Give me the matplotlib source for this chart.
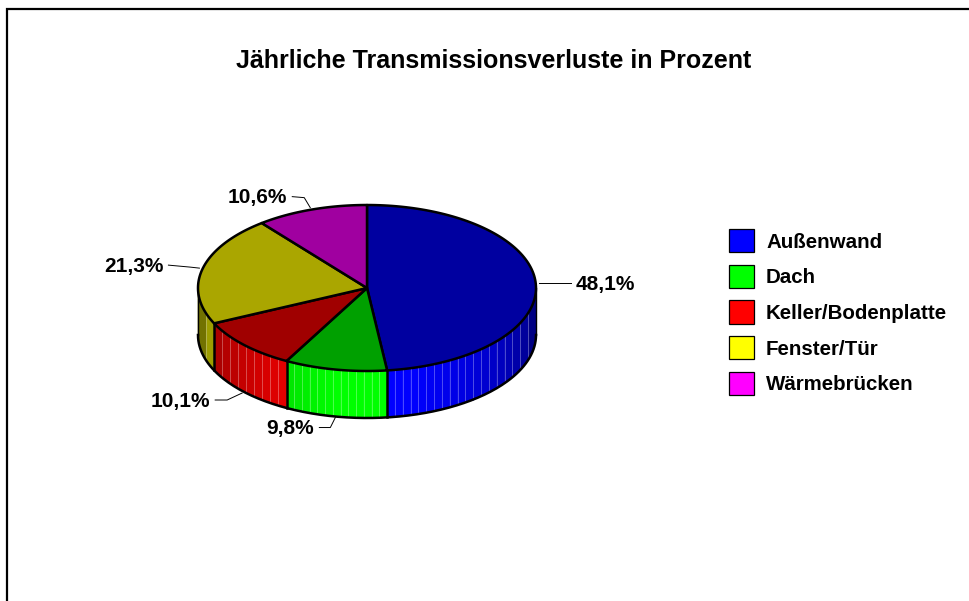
import numpy as np
import matplotlib
matplotlib.use("Agg")
import matplotlib.pyplot as plt
from matplotlib.patches import Patch
from matplotlib.colors import to_rgb

plt.rcParams['font.family'] = ['Liberation Sans', 'DejaVu Sans']

title = "Jährliche Transmissionsverluste in Prozent"
categories = ["Außenwand", "Dach", "Keller/Bodenplatte", "Fenster/Tür", "Wärmebrücken"]
values = [48.1, 9.8, 10.1, 21.3, 10.6]
labels = ["48,1%", "9,8%", "10,1%", "21,3%", "10,6%"]
colors = ["#0000FF", "#00FF00", "#FF0000", "#FFFF00", "#FF00FF"]
top_colors = ["#0000A0", "#00A000", "#A00000", "#AAA600", "#A000A0"]

CX, CY, RX, RY, DEPTH = 367, 288, 169, 83, 47
STRIP_PX = 8.0
LW = 1.8

fig = plt.figure(figsize=(9.7, 6.01), dpi=100)
ax = fig.add_axes([0, 0, 1, 1])
ax.set_xlim(0, 970)
ax.set_ylim(601, 0)
ax.axis("off")

# outer frame (runs off the right and bottom edges)
ax.plot([7.5, 7.5, 980], [620, 9, 9], color="black", lw=1.6, solid_joinstyle="miter")


def rim(a, dy=0.0):
    a = np.radians(a)
    return CX + RX * np.sin(a), CY - RY * np.cos(a) + dy


def shade(a):
    return float(np.interp(a, [90, 110, 140, 165, 190, 208, 245, 255, 270],
                           [0.45, 0.6, 0.85, 1.0, 1.0, 0.9, 0.65, 0.55, 0.3]))


edges = np.concatenate([[0], np.cumsum(values)]) * 3.6
edges[-1] = 360.0

# side wall, only the front half is visible; strips are about equally wide on screen
for i, col in enumerate(colors):
    a0, a1 = max(edges[i], 90.0), min(edges[i + 1], 270.0)
    if a1 <= a0:
        continue
    x0, x1 = rim(a0)[0], rim(a1)[0]
    n = max(1, int(round(abs(x1 - x0) / STRIP_PX)))
    steps = 180 - np.degrees(np.arcsin(np.clip((np.linspace(x0, x1, n + 1) - CX) / RX, -1, 1)))
    base = np.array(to_rgb(col))
    for j, (s0, s1) in enumerate(zip(steps[:-1], steps[1:])):
        arc = np.linspace(s0, s1, 6)
        xt, yt = rim(arc)
        xb, yb = rim(arc[::-1], DEPTH)
        c = base * shade((s0 + s1) / 2)
        ax.fill(np.r_[xt, xb], np.r_[yt, yb], color=c, lw=0.4, zorder=2)
    for j, s1 in enumerate(steps[1:-1]):
        c = base * shade(s1)
        light = c + (1 - c) * 0.35
        xl, yl = rim(s1)
        ax.plot([xl, xl], [yl, yl + DEPTH], color=light, lw=0.6, zorder=2.5)

# outlines of the side wall
arc = np.linspace(90, 270, 181)
x, y = rim(arc, DEPTH)
ax.plot(x, y, color="black", lw=LW, zorder=3)
for e in edges:
    if 90 < e < 270:
        xe, ye = rim(e)
        ax.plot([xe, xe], [ye, ye + DEPTH], color="black", lw=LW, zorder=3)
for e in (90, 270):
    xe, ye = rim(e)
    ax.plot([xe, xe], [ye, ye + DEPTH], color="black", lw=1.0, zorder=3)

# top face
for i, col in enumerate(top_colors):
    arc = np.linspace(edges[i], edges[i + 1], 120)
    xa, ya = rim(arc)
    ax.fill(np.r_[CX, xa], np.r_[CY, ya], facecolor=col, edgecolor="black", lw=LW,
            joinstyle="round", zorder=4)

# leader lines and value labels
leader_gap = [(3, 0), (0, 1), (-2, 1), (-3, -1), (-1, -2)]
leader_bend = [(18, 0), (-5, 10), (-15, 7), (-9, -1), (-6, -10)]
leader_end = [(32, 0), (-16, 10), (-27, 7), (-31, -3), (-18, -11)]
text_gap = [5, -5, -5, -5, -5]
fs = 15
mids = (edges[:-1] + edges[1:]) / 2
for i, (m, lab) in enumerate(zip(mids, labels)):
    depth = DEPTH if 100 < m < 260 else 0
    xa, ya = rim(m, depth)
    x0, y0 = xa + leader_gap[i][0], ya + leader_gap[i][1]
    xs = [x0, x0 + leader_bend[i][0], x0 + leader_end[i][0]]
    ys = [y0, y0 + leader_bend[i][1], y0 + leader_end[i][1]]
    ax.plot(xs, ys, color="black", lw=0.7, zorder=5)
    ax.text(xs[-1] + text_gap[i], ys[-1] + 1, lab, fontsize=fs, fontweight="bold",
            ha="left" if text_gap[i] > 0 else "right", va="center", color="black", zorder=6)

ax.text(494, 61.5, title, fontsize=18, fontweight="bold", ha="center", va="center", color="black")

handles = [Patch(facecolor=c, edgecolor="black", lw=0.9) for c in colors]
lfs = 14.8
px = lfs * 100 / 72
ax.legend(handles, categories, loc="upper left", bbox_to_anchor=(729 / 970, 1 - 229 / 601),
          bbox_transform=fig.transFigure, frameon=False,
          prop={"weight": "bold", "size": lfs, "family": "Liberation Sans"},
          handlelength=25 / px, handleheight=1.38, handletextpad=12 / px,
          labelspacing=12.2 / px, borderpad=0, borderaxespad=0)

fig.savefig("out.png", dpi=100)
